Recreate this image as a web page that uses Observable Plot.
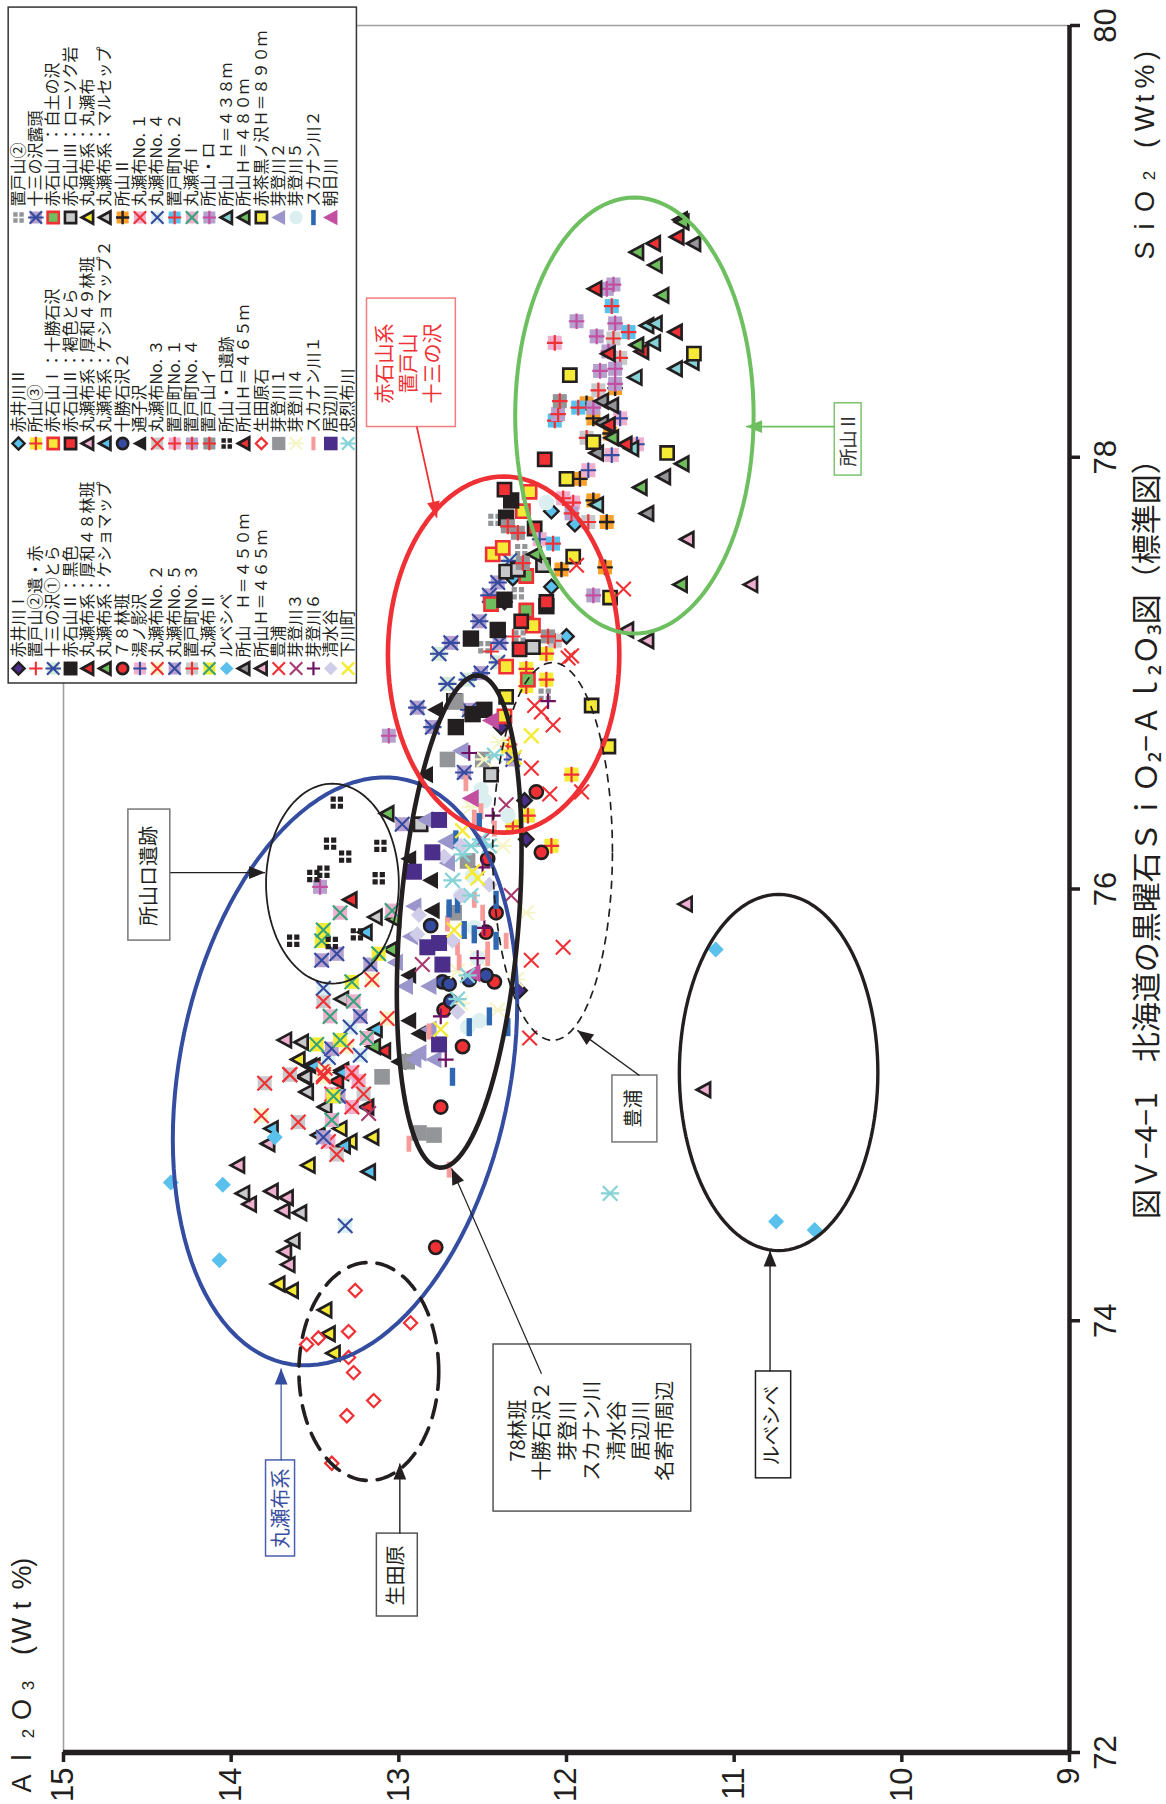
<!DOCTYPE html>
<html><head><meta charset="utf-8">
<style>html,body{margin:0;padding:0;background:#fff}</style>
<script src="https://cdn.jsdelivr.net/npm/d3@7"></script>
<script src="https://cdn.jsdelivr.net/npm/@observablehq/plot@0.6"></script>
</head><body><div id="c"></div>
<script>
const C={k:"#231f20",r:"#ef3135",y:"#f5ea36",g:"#6fbe5d",c:"#59c1ec",t:"#86d2d6",p:"#efb0cf",pl:"#b6a0ce",gy:"#939598",lg:"#c8c9cb",o:"#f9a12a",n:"#354ba0",dp:"#4b2e8a",lv:"#9a95cb",pv:"#cfcde8",py:"#f6f5c9",pc:"#dbeff0",m:"#c24fa0",pm:"#a83a70",dm:"#6e0f62",xg:"#35a37a",pg:"#d3ead9",bb:"#2f67b1",pb:"#f79a9a"};

// [Al2O3, SiO2]
const akaiI=[[12.39,76.75],[12.25,76.41],[12.24,76.23],[12.28,75.53]];
const oketoYamaIseki=[[12.45,77.10],[12.32,77.17],[12.34,76.67]];
const jusanTora=[[12.76,77.09],[12.71,76.95],[12.59,76.97],[12.41,77.05],[12.34,77.52]];
const akaIIblack=[[12.33,77.80],[12.36,77.72],[12.37,77.34],[12.41,77.20],[12.57,77.16],[12.67,76.87],[12.66,76.75],[12.56,76.81],[12.49,76.83],[12.12,77.31]];
const atsuwa48=[[13.29,75.95],[13.09,75.25],[13.37,75.11],[13.19,74.99]];
const keshoma=[[13.07,76.35],[13.03,75.86],[13.05,75.72],[13.15,75.27],[12.19,77.55]];
const rin78=[[12.18,76.45],[12.15,76.17],[12.47,76.14],[12.42,75.89],[12.48,75.80],[12.43,75.57],[12.73,75.44],[12.62,75.27],[12.75,74.99],[12.78,74.34]];
const yunokage=[[11.68,78.18],[11.58,78.06],[11.73,78.01],[11.87,77.94],[12.16,77.62]];
const maruNo2=[[13.16,75.58],[13.07,75.40],[13.45,75.14],[13.82,74.95],[13.45,75.13],[13.31,75.27],[13.44,75.17]];
const maruNo5=[[12.98,76.30],[13.46,75.67],[13.37,75.70],[13.17,75.65],[13.23,75.41],[13.40,75.26],[13.45,74.85],[13.36,75.04]];
const oketoNo3=[[11.72,78.55],[11.81,78.31],[11.88,78.09],[11.87,77.70],[11.68,78.46],[12.07,77.15]];
const maruII=[[13.45,75.81],[13.46,75.76],[13.12,75.70],[13.28,75.57],[13.49,75.28],[13.35,75.30],[13.39,75.04]];
const rubeshibe=[[13.74,74.85],[14.36,74.64],[14.05,74.63],[14.07,74.28],[11.11,75.72],[10.75,74.46],[10.52,74.42]];
const tokoro450=[[11.24,78.99],[11.79,78.26],[11.73,78.24],[11.79,78.16],[11.82,78.02],[11.42,77.91],[11.52,77.74],[11.32,79.10]];
const tokoro465p=[[11.28,77.62],[10.90,77.41],[11.64,77.20],[11.52,77.15],[11.29,75.93],[11.18,75.07]];
const toyoura=[[11.94,77.50],[11.66,77.39],[11.99,77.07],[11.97,77.08],[12.19,76.85],[12.15,76.82],[12.08,76.76],[12.21,76.56],[12.10,76.44],[11.91,76.45],[12.21,75.67],[12.02,75.73],[12.22,75.31]];
const meto3=[[12.36,76.39],[12.50,76.23],[12.33,75.97],[12.86,75.65],[13.18,74.96]];
const meto6=[[12.11,76.87],[12.58,76.63],[12.44,76.34],[12.50,76.10],[12.49,75.82],[12.53,75.68],[12.75,75.41],[12.72,75.21]];
const shimizu=[[12.63,76.20],[12.73,76.15],[12.46,76.02],[12.63,75.97],[12.88,75.88],[12.89,75.79],[12.68,75.76],[12.65,75.43]];
const shimokawa=[[12.21,76.71],[12.31,76.61],[12.62,76.27],[12.56,76.08],[12.53,76.05],[12.67,75.81],[12.75,75.35]];

const akaiII=[[12.09,77.75],[11.95,77.69],[12.32,77.44],[12.09,77.40],[12.37,77.33],[12.00,77.17]];
const tokoro3=[[12.12,76.97],[12.12,77.09],[12.24,77.02],[12.24,76.94],[11.97,76.53],[12.23,76.34],[12.32,76.29],[12.09,76.20],[12.35,76.66]];
const akaItokachi=[[12.22,77.84],[12.44,77.55],[12.38,77.58],[12.26,77.75],[12.20,77.22],[12.36,77.03],[12.37,76.80]];
const akaIIkasshoku=[[12.13,77.99],[12.37,77.85],[12.19,77.67],[12.12,77.33],[12.27,77.24],[12.28,77.11]];
const atsuwa49=[[13.68,75.30],[13.78,74.82],[13.96,74.72],[13.76,74.60],[13.67,74.57],[13.89,74.54],[13.69,74.51],[13.68,74.32],[13.66,74.26]];
const keshoma2=[[13.20,75.80],[13.14,75.35],[13.53,75.18],[13.34,75.16],[13.76,74.89],[13.48,74.86],[13.33,74.81],[13.18,74.69],[13.51,75.18],[13.34,75.15]];
const tokachi2=[[12.81,75.83],[12.74,75.57],[12.70,75.56],[12.58,75.58],[12.48,75.60],[12.69,75.48]];
const tsuushi=[[12.78,76.83],[12.84,76.53],[12.94,76.14],[12.81,76.04],[12.80,75.90],[12.94,75.60],[12.94,75.39],[12.88,75.33],[13.00,75.20]];
const maruNo3=[[13.45,75.48],[13.65,75.14],[13.80,75.10],[13.65,75.14],[13.60,74.92],[13.37,74.77],[13.21,75.05]];
const oketoNo1=[[12.07,78.53],[12.02,77.81],[11.96,77.79]];
const oketoNo4=[[12.05,78.20],[11.97,77.74]];
const oketoYamaI=[[12.04,78.26],[12.29,77.65],[12.26,77.51],[12.35,77.68],[12.11,77.17]];
const tokoroIseki=[[13.37,76.40],[13.41,76.21],[13.32,76.15],[13.11,76.20],[13.45,76.08],[13.51,76.06],[13.12,76.05],[13.63,75.76],[13.40,75.75],[13.25,75.79]];
const tokoro465=[[11.48,78.99],[11.34,79.02],[11.83,78.78],[11.35,78.58],[11.75,78.48],[11.55,78.49],[11.75,78.15],[11.65,78.06]];
const ikutawara=[[13.26,74.14],[13.30,73.95],[12.93,73.99],[13.48,73.92],[13.55,73.89],[13.30,73.83],[13.27,73.76],[13.15,73.63],[13.31,73.56],[13.40,73.34]];
const meto1=[[12.71,76.60],[12.66,76.87],[12.50,76.60],[12.67,75.89],[12.59,76.13],[12.95,75.20],[12.88,74.87],[12.79,74.86],[13.10,75.13]];
const meto4=[[12.40,76.68],[12.49,76.60],[12.57,76.38],[12.38,76.20],[12.24,75.89],[12.53,75.68],[12.65,75.62],[12.30,75.58],[12.41,75.44],[12.63,75.47]];
const sukanan1=[[12.60,76.49],[12.55,76.33],[12.51,76.36],[12.43,76.28],[12.55,75.95],[12.50,75.89],[12.71,75.84],[12.65,75.73],[12.36,75.76],[12.47,75.72],[12.47,75.68],[12.64,75.66],[12.82,75.34],[12.94,74.82],[12.70,74.70]];
const oribe=[[12.76,76.32],[12.80,76.17],[12.91,76.08],[12.83,75.73],[12.76,75.75],[12.74,75.65],[12.76,75.28]];
const churetsu=[[12.43,76.62],[12.51,76.23],[12.46,76.20],[12.57,76.20],[12.62,76.16],[12.68,76.04],[12.57,75.97],[12.59,75.60],[12.65,75.49],[11.74,74.59]];

const oketoYama2=[[12.43,77.71],[12.27,77.57],[12.29,77.37],[12.28,77.17],[12.49,77.12],[12.13,76.90]];
const jusanRoto=[[12.41,77.42],[12.46,77.36],[12.52,77.24],[12.69,77.14],[12.40,77.14],[12.89,76.84],[12.80,76.75],[12.51,77.00],[12.58,76.83],[12.61,76.54],[12.32,76.60]];
const akaIshiro=[[12.24,77.45],[12.45,77.32],[12.24,77.29],[12.23,76.97]];
const akaIII=[[12.36,77.47],[12.14,77.50],[12.29,77.48],[12.20,77.12],[12.45,76.53],[12.87,76.30]];
const maruseppu0=[[13.35,74.89],[13.16,74.85],[13.54,74.72],[13.29,74.83],[13.72,74.17],[13.64,74.14],[13.44,74.05],[13.42,73.94],[13.39,73.85],[13.60,75.21]];
const maruseppu=[[13.14,75.87],[13.34,75.49],[13.58,75.29],[13.57,75.13],[13.56,75.13],[13.55,75.06],[13.44,74.99],[13.93,74.59],[13.59,74.50],[13.63,74.37]];
const tokoroII=[[11.92,77.90],[11.84,77.80],[11.76,77.70],[12.03,77.48],[11.77,77.49],[11.88,78.25],[11.84,78.18],[11.74,78.11],[11.71,78.32]];
const maruNo1=[[13.28,75.15],[13.28,74.99],[13.24,75.11],[13.42,74.83],[13.40,75.05]];
const maruNo4=[[13.45,75.54],[13.29,75.36],[13.23,75.23],[13.42,75.22],[13.32,74.44]];
const oketoNo2=[[11.73,78.70],[12.07,78.17],[11.93,78.23],[11.63,78.58],[12.08,77.60]];
const maruI=[[13.35,75.89],[13.04,75.90],[13.27,75.48],[13.19,75.31],[13.40,74.93],[13.41,75.41]];
const tokoroRo=[[11.72,78.80],[11.76,78.78],[11.94,78.63],[11.71,78.62],[11.82,78.56],[11.80,78.40],[11.71,78.41],[11.71,78.34],[11.84,78.23],[11.75,78.49],[11.84,77.36],[13.06,76.71],[13.47,76.01]];
const tokoro438=[[11.52,78.61],[11.47,78.62],[11.48,78.53],[11.35,78.41],[11.25,78.44],[11.59,78.37],[11.61,78.04],[11.82,77.78]];
const tokoro480=[[11.31,79.09],[11.58,78.95],[11.47,78.89],[11.43,78.75],[11.58,78.52],[11.73,78.09],[11.31,77.97],[11.56,77.86],[11.32,77.41]];
const akachaKuro=[[11.24,78.48],[11.98,78.38],[11.40,78.02],[11.84,78.07],[12.00,77.90],[11.96,77.54],[11.74,77.35],[12.36,76.89],[11.85,76.85],[11.75,76.66]];
const meto2=[[12.63,76.64],[12.84,76.32],[12.72,76.22],[12.71,76.12],[12.91,75.92],[12.93,75.78],[13.02,75.66],[12.96,75.55],[12.82,75.55],[12.82,75.35],[12.88,75.24],[12.79,75.21],[12.91,75.21]];
const meto5=[[12.12,77.79],[12.51,76.46],[12.49,76.41],[12.35,76.34],[12.56,76.06],[12.63,75.97],[12.55,75.82],[12.53,75.68],[12.59,75.36],[12.52,75.39]];
const sukanan2=[[12.52,76.31],[12.66,76.23],[12.42,75.95],[12.65,75.93],[12.70,75.91],[12.61,75.81],[12.55,75.79],[12.42,75.76],[12.46,75.41],[12.58,75.36],[12.35,75.36],[12.68,75.13]];
const asahi=[[12.45,76.78],[12.57,76.42],[12.56,75.61]];

// glyphs: size → half width in px
const R=s=>Math.sqrt(s/Math.PI);
const poly=(c,p)=>{p.forEach((q,i)=>i?c.lineTo(q[0],q[1]):c.moveTo(q[0],q[1]));c.closePath();};
const G={
 sq:{draw(c,s){const r=R(s);c.rect(-r,-r,2*r,2*r);}},
 tri:{draw(c,s){const r=R(s);poly(c,[[-r,0],[.85*r,-r],[.85*r,r]]);}},
 dia:{draw(c,s){const r=R(s);poly(c,[[-r,0],[0,-r],[r,0],[0,r]]);}},
 circ:{draw(c,s){const r=R(s);c.moveTo(r,0);c.arc(0,0,r,0,2*Math.PI);}},
 x:{draw(c,s){const r=R(s);c.moveTo(-r,-r);c.lineTo(r,r);c.moveTo(r,-r);c.lineTo(-r,r);}},
 aster:{draw(c,s){const r=R(s);c.moveTo(-r,-r);c.lineTo(r,r);c.moveTo(r,-r);c.lineTo(-r,r);c.moveTo(-1.25*r,0);c.lineTo(1.25*r,0);}},
 plus:{draw(c,s){const r=R(s);c.moveTo(-r,0);c.lineTo(r,0);c.moveTo(0,-r);c.lineTo(0,r);}},
 four:{draw(c,s){const r=R(s),g=r*.14,w=r*.72;for(const a of[-1,1])for(const b of[-1,1]){const x=a<0?-g-w:g,y=b<0?-g-w:g;c.rect(x,y,w,w);}}},
 bar:{draw(c,s){const r=R(s);c.rect(-.3*r,-r,.6*r,2*r);}},
 head:{draw(c,s){const r=R(s);poly(c,[[0,0],[-.8*r,2*r],[.8*r,2*r]]);}}
};
// series style helpers
const box=(bg,fill,sw=2.6)=>({g:"sq",fill,stroke:bg,sw,r:6.6});
const tri=fill=>({g:"tri",fill,stroke:C.k,sw:2.7,r:7.2});
const sym=(bg,g,stroke,sw=2.1)=>({bg,g,stroke,fill:"none",sw,r:g==="plus"?7.8:7.3});
const solid=(g,fill,r)=>({g,fill,stroke:"none",sw:0,r});

const legendBottom=[
 ["赤井川Ⅰ",akaiI,{g:"dia",fill:C.dp,stroke:C.k,sw:2.4,r:7.2}],
 ["置戸山②遺・赤",oketoYamaIseki,sym(null,"plus",C.r)],
 ["十三の沢①とら",jusanTora,sym(C.pg,"aster",C.n)],
 ["赤石山Ⅱ：黒色",akaIIblack,solid("sq",C.k,8.2)],
 ["丸瀬布系：厚和４８林班",atsuwa48,tri(C.r)],
 ["丸瀬布系：ケショマップ",keshoma,tri(C.g)],
 ["７８林班",rin78,{g:"circ",fill:C.r,stroke:C.k,sw:2.6,r:6.6}],
 ["湯ノ影沢",yunokage,sym(C.p,"plus",C.n)],
 ["丸瀬布No. ２",maruNo2,sym(C.py,"x",C.r)],
 ["丸瀬布No. ５",maruNo5,sym(C.pl,"x",C.n)],
 ["置戸町No. ３",oketoNo3,sym(C.lg,"plus",C.r,2.2)],
 ["丸瀬布Ⅱ",maruII,sym(C.y,"x",C.xg)],
 ["ルベシベ",rubeshibe,solid("dia",C.c,8)],
 ["所山　Ｈ＝４５０ｍ",tokoro450,tri(C.gy)],
 ["所山Ｈ＝４６５ｍ",tokoro465p,tri(C.p)],
 ["豊浦",toyoura,sym(null,"x",C.r,2.1)],
 ["芽登川３",meto3,sym(null,"x",C.pm)],
 ["芽登川６",meto6,sym(null,"plus",C.dm,2.2)],
 ["清水谷",shimizu,solid("dia",C.pv,8)],
 ["下川町",shimokawa,sym(null,"x",C.y,2.4)]
];
const legendMiddle=[
 ["赤井川Ⅱ",akaiII,{g:"dia",fill:C.c,stroke:C.k,sw:2.4,r:7.2}],
 ["所山③",tokoro3,sym(C.y,"plus",C.r,2.2)],
 ["赤石山Ⅰ：十勝石沢",akaItokachi,box(C.r,C.y)],
 ["赤石山Ⅱ：褐色とら",akaIIkasshoku,box(C.k,C.r)],
 ["丸瀬布系：厚和４９林班",atsuwa49,tri(C.p)],
 ["丸瀬布系：ケショマップ２",keshoma2,tri(C.c)],
 ["十勝石沢２",tokachi2,{g:"circ",fill:C.n,stroke:C.k,sw:2.6,r:6.6}],
 ["通子沢",tsuushi,solid("tri",C.k,8.6)],
 ["丸瀬布No. ３",maruNo3,sym(C.lg,"x",C.r)],
 ["置戸町No. １",oketoNo1,sym(C.p,"plus",C.r,2.2)],
 ["置戸町No. ４",oketoNo4,sym(C.pl,"plus",C.r,2.2)],
 ["置戸山イ",oketoYamaI,sym(C.gy,"plus",C.r,2.2)],
 ["所山・ロ遺跡",tokoroIseki,solid("four",C.k,7.2)],
 ["所山Ｈ＝４６５ｍ",tokoro465,tri(C.r)],
 ["生田原石",ikutawara,{g:"dia",fill:"#fff",stroke:C.r,sw:2.2,r:6.6}],
 ["芽登川１",meto1,solid("sq",C.gy,7.8)],
 ["芽登川４",meto4,sym(null,"aster",C.py,2.2)],
 ["スカナン川１",sukanan1,solid("bar",C.pb,8)],
 ["居辺川",oribe,solid("sq",C.dp,8)],
 ["忠烈布川",churetsu,sym(null,"aster",C.t,2.2)]
];
const legendTop=[
 ["置戸山②",oketoYama2,solid("four",C.gy,7.2)],
 ["十三の沢露頭",jusanRoto,sym(C.pl,"aster",C.n)],
 ["赤石山Ⅰ：白土の沢",akaIshiro,box(C.r,C.g)],
 ["赤石山Ⅲ：ローソク岩",akaIII,box(C.k,C.lg)],
 ["丸瀬布系：丸瀬布",maruseppu0,tri(C.y)],
 ["丸瀬布系：マルセップ",maruseppu,tri(C.lg)],
 ["所山Ⅱ",tokoroII,sym(C.o,"plus",C.k,2.4)],
 ["丸瀬布No. １",maruNo1,sym(C.p,"x",C.r)],
 ["丸瀬布No. ４",maruNo4,sym(C.pc,"x",C.n)],
 ["置戸町No. ２",oketoNo2,sym(C.c,"plus",C.r,2.2)],
 ["丸瀬布Ⅰ",maruI,sym(C.p,"x",C.xg)],
 ["所山・ロ",tokoroRo,sym(C.pl,"plus",C.m,2.2)],
 ["所山　Ｈ＝４３８ｍ",tokoro438,tri(C.t)],
 ["所山Ｈ＝４８０ｍ",tokoro480,tri(C.g)],
 ["赤茶黒ノ沢Ｈ＝８９０ｍ",akachaKuro,box(C.k,C.y)],
 ["芽登川２",meto2,solid("tri",C.lv,8.8)],
 ["芽登川５",meto5,solid("circ",C.pc,7.8)],
 ["スカナン川２",sukanan2,solid("bar",C.bb,9)],
 ["朝日川",asahi,solid("tri",C.m,9.2)]
];
const xTicks=[15,14,13,12,11,10,9], yTicks=[72,74,76,78,80];

// annotations, all in data units
const ellipses=[ // Al, Si, radius Al, radius Si, tilt, colour, width, dash
 [13.321,75.155,1.027,1.362,.315,"#344da1",4,null],
 [12.640,75.849,.372,1.140,.334,C.k,4.6,null],
 [12.375,77.086,.690,.825,0,C.r,4.6,null],
 [11.595,78.193,.711,1.010,0,"#6dbf60",4,null],
 [13.396,76.025,.396,.463,0,C.k,1.8,null],
 [13.179,73.765,.417,.505,0,C.k,3.6,"18,11"],
 [10.735,75.150,.592,.825,0,C.k,3.4,null],
 [12.083,76.174,.357,.875,0,C.k,1.7,"7,7"]
];
const boxes=[ // Al1, Al2, Si1, Si2, colour
 [13.19,12.66,78.735,78.14,"#f27c7e"],
 [10.40,10.24,78.25,77.915,"#7cc46e"],
 [14.613,14.363,76.368,75.761,"#777"],
 [11.726,11.458,75.136,74.826,"#777"],
 [12.435,11.256,73.89,73.116,"#555"],
 [10.87,10.66,73.765,73.27,C.k],
 [13.131,12.887,73.014,72.63,"#555"],
 [13.792,13.619,73.353,72.908,"#4a60b0"]
];
const arrows=[ // from Al,Si to Al,Si, head angle, colour, width
 [12.893,78.142,12.774,77.721,168,C.r,1.8],
 [10.40,78.142,10.929,78.142,-90,"#6dbf60",1.8],
 [14.363,76.076,13.798,76.076,90,C.k,1.4],
 [11.565,75.136,11.935,75.345,-54,C.k,1.4],
 [12.149,73.755,12.685,74.705,-24,C.k,1.2],
 [10.786,73.765,10.786,74.325,0,C.k,1.4],
 [12.994,73.014,12.994,73.339,0,C.k,1.4],
 [13.702,73.353,13.702,73.779,0,"#344da1",1.2]
];
const labels=[ // text, Al, Si, size, colour
 ["赤石山系",13.077,78.434,20,C.r],["置戸山",12.935,78.434,20,C.r],["十三の沢",12.792,78.434,20,C.r],
 ["所山Ⅱ",10.315,78.082,18,"#333"],
 ["所山ロ遺跡",14.488,76.06,20,C.k],
 ["豊浦",11.595,74.983,19,C.k],
 ["78林班",12.286,73.491,20,C.k],["十勝石沢２",12.143,73.491,20,C.k],["芽登川",11.988,73.491,20,C.k],
 ["スカナン川",11.845,73.491,20,C.k],["清水谷",11.696,73.491,20,C.k],["居辺川",11.554,73.491,20,C.k],["名寄市周辺",11.411,73.491,20,C.k],
 ["ルベシベ",10.768,73.515,20,C.k],
 ["生田原",13.012,72.82,20,C.k],
 ["丸瀬布系",13.702,73.13,20,"#3b4fa0"],
 ["図Ｖ−4−1　北海道の黒曜石ＳｉＯ₂−Ａｌ₂Ｏ₃図（標準図）",8.536,76.266,30,"#231f20"]
];
// letter-spaced axis titles: character, Al, Si, size
const axisLetters=[
 ["S",8.55,78.958,27],["i",8.55,79.069,27],["O",8.55,79.185,27],["2",8.523,79.305,17],
 ["(",8.55,79.453,27],["W",8.55,79.569,27],["t",8.55,79.662,27],["%",8.55,79.764,27],[")",8.55,79.861,27],
 ["A",15.245,71.856,27],["l",15.245,71.977,27],["2",15.21,72.088,17],["O",15.245,72.199,27],["3",15.21,72.31,17],
 ["(",15.245,72.473,27],["W",15.245,72.565,27],["t",15.245,72.681,27],["%",15.245,72.811,27],[")",15.245,72.881,27]
];
const jp='"Noto Sans CJK JP","Noto Sans",sans-serif';
const tickFont='"Liberation Sans Narrow","Liberation Sans",sans-serif';

const seriesMarks=(d,st)=>{
 const m=[];
 if(st.bg) m.push(Plot.dot(d,{x:"0",y:"1",symbol:G.sq,r:7,fill:st.bg,stroke:"none"}));
 m.push(Plot.dot(d,{x:"0",y:"1",symbol:G[st.g],r:st.r,fill:st.fill,stroke:st.stroke,strokeWidth:st.sw,strokeLinejoin:"miter"}));
 return m;
};
const xyz=d=>d.map(p=>({0:p[0],1:p[1]}));
const marks=[];
// spines
marks.push(Plot.ruleX([15],{stroke:"#a0a0a0",strokeWidth:1.6}),Plot.ruleY([80],{stroke:"#a0a0a0",strokeWidth:1.6}));
marks.push(Plot.ruleX([9],{stroke:"#231f20",strokeWidth:4.5}),Plot.ruleY([72],{stroke:"#231f20",strokeWidth:5.5}));
marks.push(Plot.axisX({anchor:"bottom",ticks:xTicks,tickSize:10,tickPadding:5,tickRotate:-90,fontSize:31,fontFamily:tickFont,stroke:"#231f20",strokeWidth:3.5,fill:"#231f20",label:null,tickFormat:d=>String(d)}));
marks.push(Plot.axisY({anchor:"right",ticks:yTicks,tickSize:10,tickPadding:36,tickRotate:-90,fontSize:31,fontFamily:tickFont,stroke:"#231f20",strokeWidth:3.5,fill:"#231f20",label:null,tickFormat:d=>String(d)}));
// series, row by row
for(let i=0;i<20;i++) for(const g of [legendBottom,legendMiddle,legendTop]) if(g[i]) marks.push(...seriesMarks(xyz(g[i][1]),g[i][2]));
// ellipses
for(const [al,si,ra,rs,sh,col,w,dash] of ellipses){
 const pts=d3.range(0,361,3).map(a=>{const t=a*Math.PI/180;return {x:al-ra*Math.cos(t),y:si+sh*Math.cos(t)+Math.sqrt(rs*rs-sh*sh)*Math.sin(t)};});
 marks.push(Plot.line(pts,{x:"x",y:"y",stroke:col,strokeWidth:w,strokeDasharray:dash||undefined}));
}
// boxes
for(const [a,b,c,d,col] of boxes) marks.push(Plot.rect([0],{x1:()=>a,x2:()=>b,y1:()=>c,y2:()=>d,fill:"#fff",stroke:col,strokeWidth:1.5}));
// arrows
for(const [a,b,c,d,ang,col,w] of arrows){
 marks.push(Plot.link([0],{x1:()=>a,y1:()=>b,x2:()=>c,y2:()=>d,stroke:col,strokeWidth:w}));
 marks.push(Plot.dot([{x:c,y:d}],{x:"x",y:"y",symbol:G.head,r:8,fill:col,stroke:"none",rotate:ang}));
}
for(const [t,a,b,s,col] of labels) marks.push(Plot.text([t],{x:()=>a,y:()=>b,text:d=>d,rotate:-90,fontSize:s,fill:col,fontFamily:jp,textAnchor:"middle",lineAnchor:"middle"}));
for(const [t,a,b,s] of axisLetters) marks.push(Plot.text([t],{x:()=>a,y:()=>b,text:d=>d,rotate:-90,fontSize:s,fill:"#231f20",fontFamily:"Liberation Sans",textAnchor:"middle",lineAnchor:"middle"}));
// legend
marks.push(Plot.rect([0],{x1:()=>15.327,x2:()=>13.25,y1:()=>80.083,y2:()=>76.952,fill:"#fff",stroke:"#333",strokeWidth:1.5}));
[[legendBottom,668],[legendMiddle,443],[legendTop,217]].forEach(([g,py])=>g.forEach((it,i)=>{
 const dx=18+17.35*i-63, dy=py-25, st=it[2];
 const f=.85;
 if(st.bg) marks.push(Plot.dot([0],{frameAnchor:"top-left",dx,dy,symbol:G.sq,r:6,fill:st.bg,stroke:"none"}));
 marks.push(Plot.dot([0],{frameAnchor:"top-left",dx,dy,symbol:G[st.g],r:st.r*f,fill:st.fill,stroke:st.stroke,strokeWidth:st.sw}));
 marks.push(Plot.text([it[0]],{frameAnchor:"top-left",dx,dy:dy-11,text:d=>d,rotate:-90,fontSize:16,fill:"#231f20",fontFamily:jp,textAnchor:"start",lineAnchor:"middle"}));
}));
const chart=Plot.plot({width:1166,height:1804,marginLeft:63,marginRight:97,marginTop:25,marginBottom:52,
 style:{background:"#fff",overflow:"visible"},
 x:{domain:[15,9],axis:null},y:{domain:[72,80],axis:null},marks});
document.getElementById("c").append(chart);
</script></body></html>
